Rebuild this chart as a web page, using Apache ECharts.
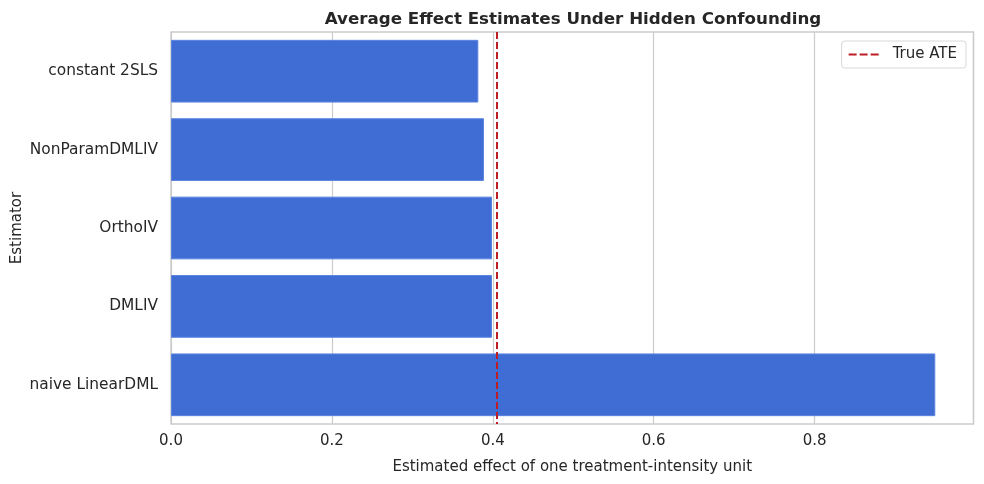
<!DOCTYPE html>
<html>
<head>
<meta charset="utf-8">
<script src="https://cdn.jsdelivr.net/npm/echarts@6/dist/echarts.min.js"></script>
<style>
  html, body { margin: 0; padding: 0; background: #fff; }
  #chart { width: 984px; height: 484px; }
</style>
</head>
<body>
<div id="chart"></div>
<script>
// estimators, top to bottom
const estimators = ['constant 2SLS', 'NonParamDMLIV', 'OrthoIV', 'DMLIV', 'naive LinearDML'];
const effects = [0.382, 0.389, 0.399, 0.399, 0.950];
const trueATE = 0.405;
const xTicks = [0, 0.2, 0.4, 0.6, 0.8];

const font = 'DejaVu Sans';
const chart = echarts.init(document.getElementById('chart'));

chart.setOption({
  animation: false,
  textStyle: { fontFamily: font },
  title: {
    text: 'Average Effect Estimates Under Hidden Confounding',
    left: 568, top: 6, textAlign: 'center',
    textStyle: { fontFamily: font, fontSize: 16.7, fontWeight: 'bold', color: '#262626' }
  },
  legend: {
    right: 18, top: 41,
    data: [{ name: 'True ATE', icon: 'path://M0,0h8v2h-8zM11,0h8v2h-8zM22,0h8v2h-8z' }],
    itemWidth: 30, itemHeight: 2, itemGap: 8,
    padding: [6, 9, 6, 7],
    borderColor: '#d9d9d9', borderWidth: 1, borderRadius: 3,
    textStyle: { fontFamily: font, fontSize: 15, color: '#262626', padding: [0, 0, 0, 9] }
  },
  grid: {
    left: 171, right: 10.5, top: 32, bottom: 60,
    outerBoundsMode: 'none', containLabel: false,
    show: true, borderColor: '#cccccc', borderWidth: 1.5
  },
  xAxis: {
    type: 'value', min: 0, max: 0.9975, interval: 0.2,
    name: 'Estimated effect of one treatment-intensity unit',
    nameLocation: 'middle', nameGap: 36, nameMoveOverlap: false,
    nameTextStyle: { fontFamily: font, fontSize: 15, color: '#262626' },
    axisLine: { show: false }, axisTick: { show: false },
    axisLabel: {
      fontFamily: font, fontSize: 15, color: '#262626', margin: 10,
      showMaxLabel: false,
      formatter: v => xTicks.some(t => Math.abs(t - v) < 1e-9) ? v.toFixed(1) : ''
    },
    splitLine: { lineStyle: { color: '#cccccc', width: 1.2 } }
  },
  yAxis: {
    type: 'category', data: estimators, inverse: true,
    name: 'Estimator', nameLocation: 'middle', nameGap: 146, nameMoveOverlap: false,
    nameTextStyle: { fontFamily: font, fontSize: 15, color: '#262626' },
    axisLine: { show: false }, axisTick: { show: false },
    axisLabel: { fontFamily: font, fontSize: 15.4, color: '#262626', margin: 13 },
    splitLine: { show: false }
  },
  series: [
    {
      type: 'bar', data: effects, barCategoryGap: '20%',
      itemStyle: { color: '#3f6dd4', borderColor: '#5b84e0', borderWidth: 1 },
      silent: true,
      markLine: {
        silent: true, symbol: 'none', label: { show: false }, precision: 4,
        lineStyle: { color: '#bf1d24', type: [7, 3], width: 2 },
        data: [{ xAxis: trueATE }]
      }
    },
    {
      name: 'True ATE', type: 'line', data: [],
      itemStyle: { color: '#bf1d24' },
      lineStyle: { color: '#bf1d24', type: [7, 3], width: 2 }
    }
  ]
});
</script>
</body>
</html>
